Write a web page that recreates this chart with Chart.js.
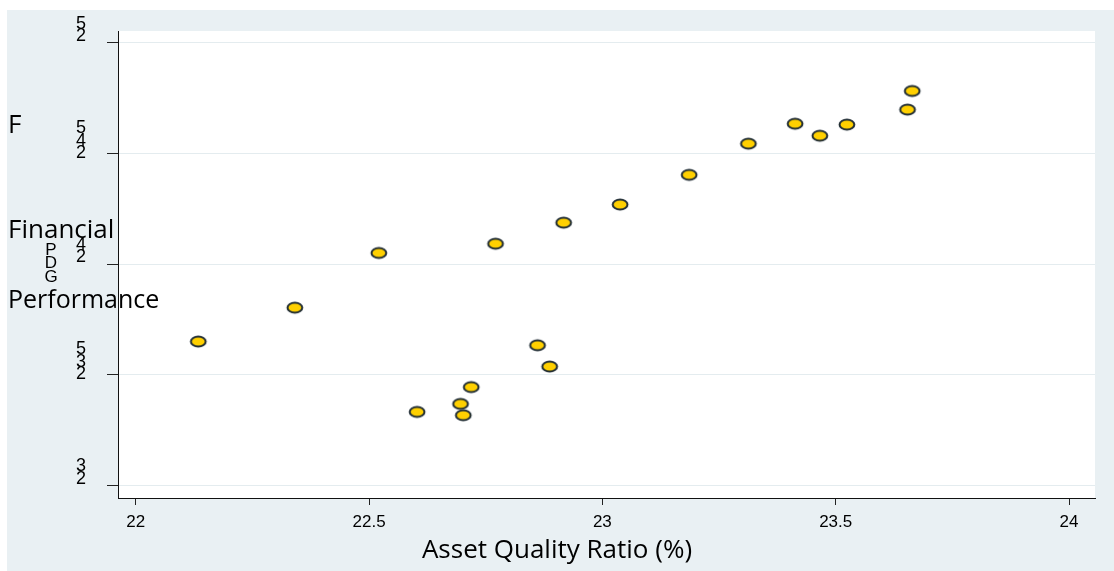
<!DOCTYPE html>
<html>
<head>
<meta charset="utf-8">
<script src="https://cdn.jsdelivr.net/npm/chart.js@4.4.1/dist/chart.umd.min.js"></script>
<style>
  html, body { margin: 0; padding: 0; background: #fff; }
  canvas { display: block; }
</style>
</head>
<body>
<canvas id="scatter" width="1114" height="571"></canvas>
<script>
// asset quality ratio (x) vs performance (y), one point per observation
const assetQuality = [22.134, 22.341, 22.521, 22.603, 22.696, 22.702, 22.719, 22.771, 22.861, 22.887,
                      22.917, 23.038, 23.186, 23.313, 23.413, 23.466, 23.524, 23.654, 23.664];
const performance  = [23.651, 23.804, 24.051, 23.333, 23.369, 23.318, 23.445, 24.093, 23.634, 23.538,
                      24.188, 24.270, 24.404, 24.545, 24.635, 24.581, 24.631, 24.699, 24.783];
const xTicks = [22, 22.5, 23, 23.5, 24];
const yTicks = [23, 23.5, 24, 24.5, 25];
const xTitle = 'Asset Quality Ratio (%)';
const yTitle = ['F', 'Financial', 'Performance'];
const yTitleStack = 'GDP';

// yellow ellipse marker with a dark rim
function ellipseMarker() {
    const c = document.createElement('canvas');
    c.width = 20; c.height = 15;
    const g = c.getContext('2d');
    g.beginPath();
    g.ellipse(10, 7.5, 7.4, 5, 0, 0, Math.PI * 2);
    g.fillStyle = '#FFD000';
    g.fill();
    g.lineWidth = 2;
    g.strokeStyle = '#1F2C33';
    g.stroke();
    return c;
}

const backdrop = {
    id: 'backdrop',
    beforeDraw(chart) {
        const ctx = chart.ctx, a = chart.chartArea;
        ctx.save();
        ctx.fillStyle = '#fff';
        ctx.fillRect(0, 0, chart.width, chart.height);
        ctx.fillStyle = '#E9F0F3';
        ctx.fillRect(7, 10, chart.width - 7, chart.height - 10);
        ctx.fillStyle = '#fff';
        ctx.fillRect(a.left, a.top, a.right - a.left, a.bottom - a.top);
        ctx.restore();
    }
};

const axisText = {
    id: 'axisText',
    afterDraw(chart) {
        const ctx = chart.ctx, y = chart.scales.y;
        ctx.save();
        ctx.fillStyle = '#000';
        ctx.textAlign = 'center';
        ctx.textBaseline = 'middle';
        ctx.font = '18px "Liberation Sans"';
        // y tick labels: digits stacked upright, first digit at the bottom
        y.ticks.forEach(t => {
            const chars = String(t.value).replace('.', '').split('');
            const mid = y.getPixelForValue(t.value) - 13;
            const n = chars.length;
            chars.forEach((ch, i) => {
                ctx.fillText(ch, 81, mid + ((n - 1) / 2 - i) * 12.5);
            });
        });
        ctx.font = '17px "Liberation Sans"';
        yTitleStack.split('').forEach((ch, i) => {
            ctx.fillText(ch, 51, 277 - i * 13.5);
        });

        ctx.font = '26px "Open Sans"';
        ctx.textBaseline = 'alphabetic';
        ctx.textAlign = 'left';
        ctx.fillText(yTitle[0], 8, 133);
        ctx.fillText(yTitle[1], 8, 238);
        ctx.font = '25px "Open Sans"';
        ctx.fillText(yTitle[2], 8, 308);
        ctx.font = '26px "Open Sans"';
        ctx.textAlign = 'center';
        ctx.fillText(xTitle, chart.width / 2, 558);
        ctx.restore();
    }
};

new Chart(document.getElementById('scatter'), {
    type: 'scatter',
    data: {
        datasets: [{
            data: assetQuality.map((x, i) => ({ x: x, y: performance[i] })),
            pointStyle: ellipseMarker(),
            pointRadius: 8,
            pointHoverRadius: 8
        }]
    },
    options: {
        responsive: false,
        animation: false,
        devicePixelRatio: 1,
        layout: { padding: { top: 31, right: 19, left: 0, bottom: 0 } },
        plugins: {
            legend: { display: false },
            tooltip: { enabled: false }
        },
        scales: {
            x: {
                type: 'linear',
                min: 21.962,
                max: 24.0557,
                afterBuildTicks: s => { s.ticks = xTicks.map(v => ({ value: v })); },
                afterFit: s => { s.height = 73; },
                grid: { drawOnChartArea: false, tickLength: 7, tickColor: '#222' },
                border: { color: '#111', width: 1 },
                ticks: {
                    font: { family: 'Liberation Sans', size: 17 },
                    color: '#000',
                    padding: 7,
                    maxRotation: 0,
                    autoSkip: false,
                    callback: v => String(v)
                }
            },
            y: {
                type: 'linear',
                min: 22.944,
                max: 25.054,
                afterBuildTicks: s => { s.ticks = yTicks.map(v => ({ value: v })); },
                afterFit: s => { s.width = 118; },
                grid: { color: '#E4ECEF', tickLength: 11, tickColor: '#222', lineWidth: 1 },
                border: { color: '#111', width: 1 },
                ticks: { display: false }
            }
        }
    },
    plugins: [backdrop, axisText]
});
</script>
</body>
</html>
